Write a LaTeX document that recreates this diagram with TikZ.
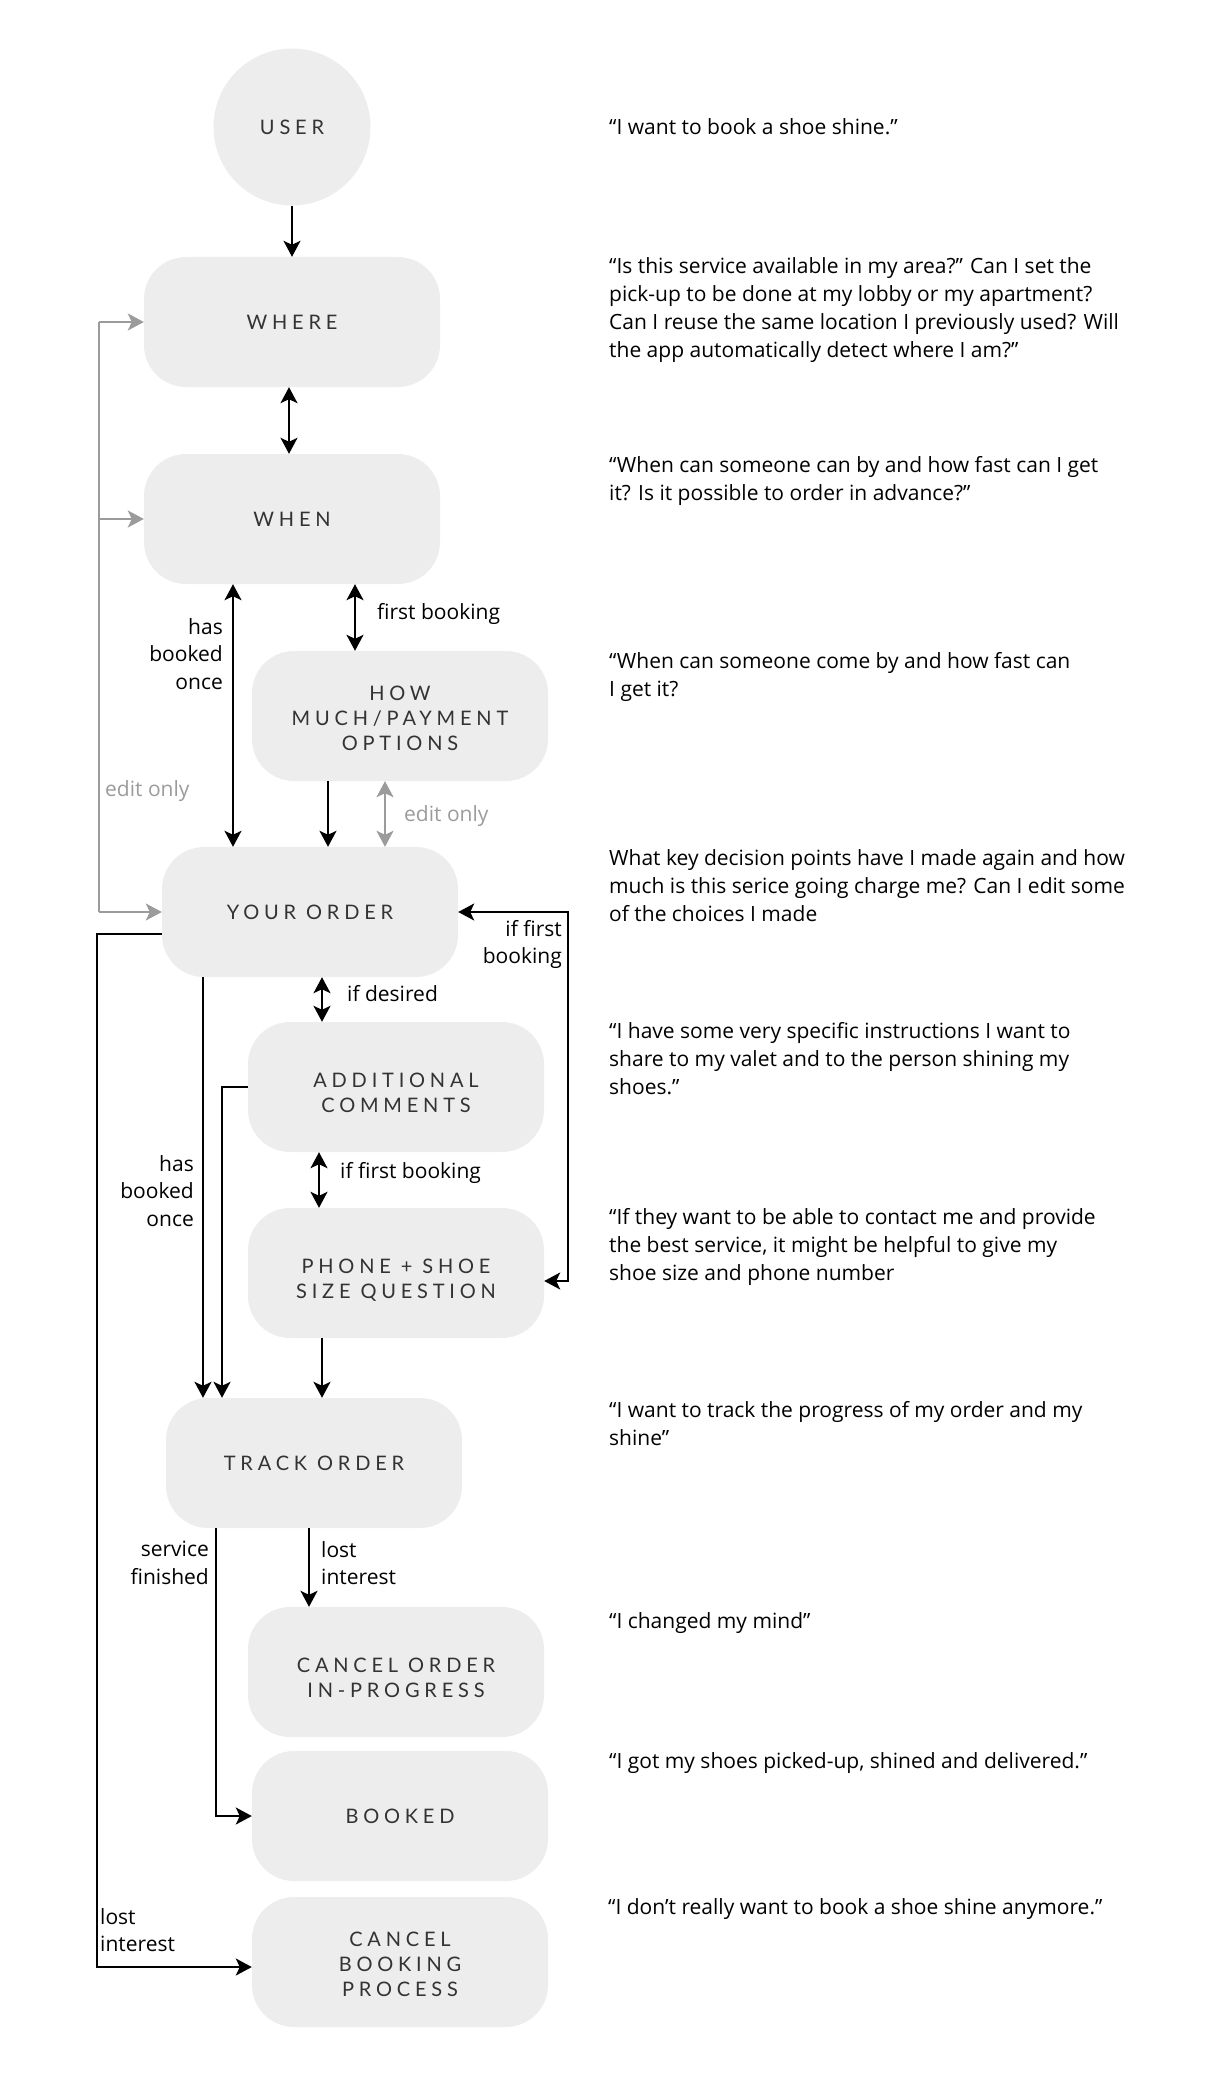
\documentclass[tikz,border=0pt]{standalone}
\usepackage{fontspec}
\setmainfont{Open Sans}
\newfontfamily\boxfont[LetterSpace=24]{Lato}
\usetikzlibrary{arrows.meta}
\definecolor{boxgray}{HTML}{EDEDED}
\definecolor{labelgray}{HTML}{333333}
\definecolor{editgray}{HTML}{9B9B9B}

\begin{document}
\begin{tikzpicture}[x=1pt,y=-1pt,
  >={Stealth[length=16pt,width=17pt,inset=4pt]},
  stage/.style={fill=boxgray,rounded corners=42pt,minimum width=296pt,minimum height=130pt,
    inner sep=0pt,align=center,text=labelgray,font=\boxfont\fontsize{20}{25}\selectfont},
  twolines/.style={text height=51pt,text depth=0pt},
  threelines/.style={text height=68pt,text depth=0pt},
  quote/.style={anchor=base west,align=left,inner sep=0pt,font=\fontsize{21}{27.7}\selectfont},
  note/.style={inner sep=0pt,font=\fontsize{21}{27.7}\selectfont},
  flow/.style={line width=2pt},
  editflow/.style={line width=2pt,editgray}]
  \useasboundingbox (0,0) rectangle (1217,2076);

  \node[circle,fill=boxgray,minimum size=157pt,text=labelgray,
        font=\boxfont\fontsize{20}{25}\selectfont] (user) at (292,127) {USER};
  \node[stage] (where)       at (292,322)  {WHERE};
  \node[stage] (when)        at (292,519)  {WHEN};
  \node[stage,threelines] (howmuch) at (400,716) {HOW\\MUCH/PAYMENT\\OPTIONS};
  \node[stage] (order)       at (310,912)  {YOUR ORDER};
  \node[stage,twolines] (comments) at (396,1087) {ADDITIONAL\\COMMENTS};
  \node[stage,twolines] (phone) at (396,1273) {PHONE + SHOE\\SIZE QUESTION};
  \node[stage] (track)       at (314,1463) {TRACK ORDER};
  \node[stage,twolines] (cancelorder) at (396,1672) {CANCEL ORDER\\IN-PROGRESS};
  \node[stage] (booked)      at (400,1816) {BOOKED};
  \node[stage,threelines] (cancelbook) at (400,1962) {CANCEL\\BOOKING\\PROCESS};

  % rails for the side loops
  \coordinate (editrail) at (99,600);
  \coordinate (lostrail) at (97,1500);
  \coordinate (firstrail) at (568,1100);

  \draw[flow,->] (user.south) -- (where.north);
  \draw[flow,<->] ([xshift=-3pt]where.south) -- ([xshift=-3pt]when.north);
  \draw[flow,<->] ([xshift=-59pt]when.south) -- ([xshift=-77pt]order.north);
  \draw[flow,<->] ([xshift=63pt]when.south) -- ([xshift=-45pt]howmuch.north);
  \draw[flow,->] ([xshift=-72pt]howmuch.south) -- ([xshift=18pt]order.north);
  \draw[editflow,<->] ([xshift=-15pt]howmuch.south) -- ([xshift=75pt]order.north);
  \draw[flow,<->] ([xshift=12pt]order.south) -- ([xshift=-74pt]comments.north);
  \draw[flow,<->] ([xshift=-77pt]comments.south) -- ([xshift=-77pt]phone.north);
  \draw[flow,->] ([xshift=-74pt]phone.south) -- ([xshift=8pt]track.north);
  \draw[flow,<->] (order.east) -| (firstrail) |- ([yshift=-8pt]phone.east);
  \draw[flow,->] ([xshift=-107pt]order.south) -- ([xshift=-111pt]track.north);
  \draw[flow,->] (comments.west) -| ([xshift=-92pt]track.north);
  \draw[flow,->] ([yshift=-22pt]order.west) -| (lostrail) |- ([yshift=-5pt]cancelbook.west);
  \draw[flow,->] ([xshift=-98pt]track.south) |- (booked.west);
  \draw[flow,->] ([xshift=-5pt]track.south) -- ([xshift=-87pt]cancelorder.north);

  \draw[editflow] (editrail |- where.west) -- (editrail |- order.west);
  \draw[editflow,->] (editrail |- where.west) -- (where.west);
  \draw[editflow,->] (editrail |- when.west) -- (when.west);
  \draw[editflow,->] (editrail |- order.west) -- (order.west);

  \node[note,anchor=west,text=editgray] (editleft) at (105,791) {edit only};
  \node[note,anchor=west,text=editgray] (editright) at (404,816) {edit only};
  \node[note,anchor=north east,align=right] (hasbooked) at (223,618) {has\\booked\\once};
  \node[note,anchor=west] (firstlbl) at (377,614) {first booking};
  \node[note,anchor=north east,align=right] (iffirst) at (562,920) {if first\\booking};
  \node[note,anchor=west] (desired) at (347,994) {if desired};
  \node[note,anchor=west] (firstphone) at (340,1173) {if first booking};
  \node[note,anchor=north east,align=right] (hasbooked2) at (194,1155) {has\\booked\\once};
  \node[note,anchor=north east,align=right] (finished) at (209,1541) {service\\finished};
  \node[note,anchor=north west,align=left] (lostorder) at (321,1541) {lost\\interest};
  \node[note,anchor=north west,align=left] (lostbook) at (100,1908) {lost\\interest};

  % quotes: base of the last line
  \node[quote] (q1) at (609,135) {“I want to book a shoe shine.”};
  \node[quote] (q2) at (609,357) {“Is this service available in my area?” Can I set the\\pick-up to be done at my lobby or my apartment?\\Can I reuse the same location I previously used? Will\\the app automatically detect where I am?”};
  \node[quote] (q3) at (609,500) {“When can someone can by and how fast can I get\\it? Is it possible to order in advance?”};
  \node[quote] (q4) at (609,696) {“When can someone come by and how fast can\\I get it?};
  \node[quote] (q5) at (609,921) {What key decision points have I made again and how\\much is this serice going charge me? Can I edit some\\of the choices I made};
  \node[quote] (q6) at (609,1094) {“I have some very specific instructions I want to\\share to my valet and to the person shining my\\shoes.”};
  \node[quote] (q7) at (609,1280) {“If they want to be able to contact me and provide\\the best service, it might be helpful to give my\\shoe size and phone number};
  \node[quote] (q8) at (609,1445) {“I want to track the progress of my order and my\\shine”};
  \node[quote] (q9) at (609,1628) {“I changed my mind”};
  \node[quote] (q10) at (609,1768) {“I got my shoes picked-up, shined and delivered.”};
  \node[quote] (q11) at (608,1914) {“I don’t really want to book a shoe shine anymore.”};
\end{tikzpicture}
\end{document}
